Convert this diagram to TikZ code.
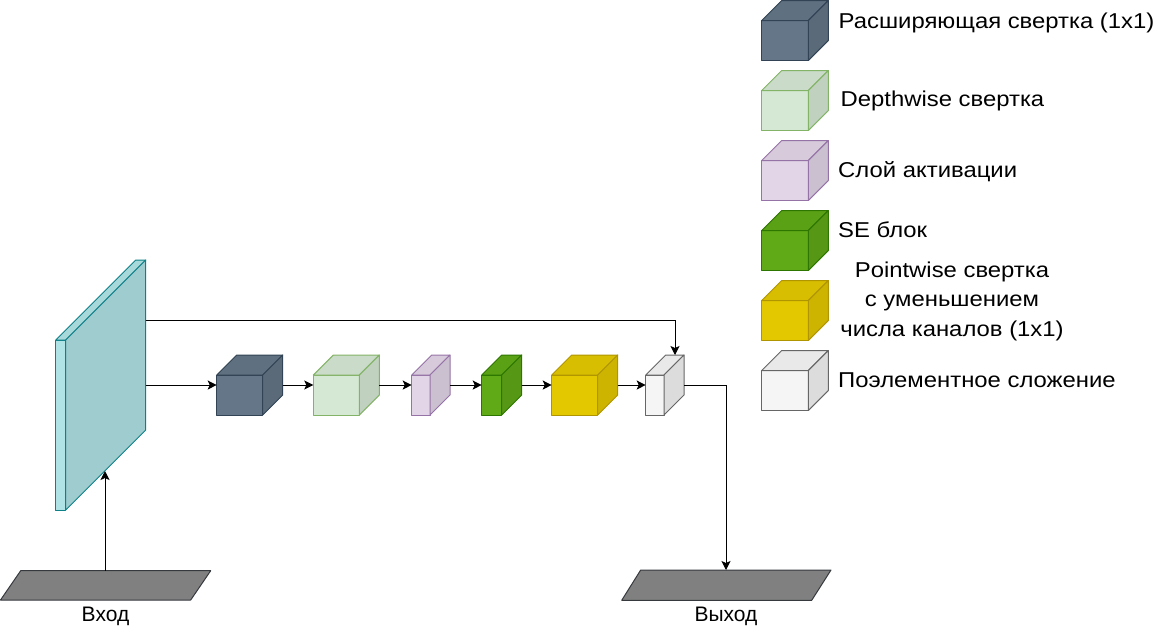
\documentclass[tikz,border=0pt]{standalone}
\usepackage{fontspec}
\setmainfont{Liberation Sans}
\newfontfamily\legfont{Liberation Sans}[FakeStretch=1.11]
\usetikzlibrary{arrows.meta,calc}
\definecolor{cA}{HTML}{647687}\definecolor{sA}{HTML}{314354}
\definecolor{cB}{HTML}{D5E8D4}\definecolor{sB}{HTML}{82B366}
\definecolor{cC}{HTML}{E1D5E7}\definecolor{sC}{HTML}{9673A6}
\definecolor{cD}{HTML}{60A917}\definecolor{sD}{HTML}{2D7600}
\definecolor{cE}{HTML}{E3C800}\definecolor{sE}{HTML}{B09500}
\definecolor{cF}{HTML}{F5F5F5}\definecolor{sF}{HTML}{666666}
\definecolor{cS}{HTML}{B0E3E6}\definecolor{sS}{HTML}{0E8088}
\definecolor{cP}{HTML}{808080}\definecolor{sP}{HTML}{36393D}
\tikzset{
  cubebox/.style={inner sep=0pt, outer sep=0pt},
  face/.style={line width=1pt, line join=round},
  conn/.style={line width=1pt, -{Stealth[length=9pt,width=9pt,inset=2pt]}},
  lbl/.style={inner sep=0pt, font=\fontsize{21}{29.3}\selectfont},
  leg/.style={inner sep=0pt, font=\legfont\fontsize{21.5}{29.3}\selectfont},
}
% #1 name, #2 x of front top-left, #3 y of front top-left, #4 front width, #5 fill, #6 stroke
\newcommand\mycube[6]{%
  \node[cubebox, minimum width=#4pt+20pt, minimum height=60pt, anchor=north west] (#1) at (#2,#3-20) {};
  \filldraw[face, fill=#5, draw=#6] (#2,#3) rectangle ++(#4,40);
  \filldraw[face, fill=#5!95!black, draw=#6] (#2,#3) -- ++(20,-20) -- ++(#4,0) -- ++(-20,20) -- cycle;
  \filldraw[face, fill=#5!90!black, draw=#6] (#2+#4,#3) -- ++(20,-20) -- ++(0,40) -- ++(-20,20) -- cycle;
}
\begin{document}
\begin{tikzpicture}[x=1pt,y=-1pt]
\useasboundingbox (0,0) rectangle (1168,641);
% input slab
\filldraw[face, fill=cS, draw=sS] (55.7,340) rectangle (65.7,510);
\filldraw[face, fill=cS!95!black, draw=sS] (55.7,340) -- (135.7,260) -- (145.7,260) -- (65.7,340) -- cycle;
\filldraw[face, fill=cS!90!black, draw=sS] (65.7,340) -- (145.7,260) -- (145.7,430) -- (65.7,510) -- cycle;
\coordinate (slabA) at (145.7,385);
\coordinate (slabS) at (145.7,320);
\coordinate (slabB) at (105,471);
% input / output parallelograms
\filldraw[face, fill=cP, draw=sP] (20.7,570.7) -- (210.7,570.7) -- (190.7,600) -- (0.5,600) -- cycle;
\coordinate (inTop) at (105,570.7);
\node[lbl, anchor=base] (inLbl) at (105.5,621.7) {Вход};
\filldraw[face, fill=cP, draw=sP] (640.7,570) -- (831,570) -- (811.7,600.3) -- (621.7,600.3) -- cycle;
\coordinate (outTop) at (726,570);
\node[lbl, anchor=base] (outLbl) at (726,621.7) {Выход};
% pipeline cubes
\mycube{c1}{216.7}{375}{46}{cA}{sA}
\mycube{c2}{313.3}{375}{46}{cB}{sB}
\mycube{c3}{411.7}{375}{18.3}{cC}{sC}
\mycube{c4}{481.7}{375}{20}{cD}{sD}
\mycube{c5}{551.7}{375}{46}{cE}{sE}
\mycube{c6}{645.7}{375}{18.3}{cF}{sF}
% connectors
\draw[conn] (inTop) -- (slabB);
\draw[conn] (slabA) -- (c1.west);
\draw[conn] (c1.east) -- (c2.west);
\draw[conn] (c2.east) -- (c3.west);
\draw[conn] (c3.east) -- (c4.west);
\draw[conn] (c4.east) -- (c5.west);
\draw[conn] (c5.east) -- (c6.west);
\draw[conn] (slabS) -| ($(c6.north east)+(-9,0)$);
\draw[conn] (c6.east) -| (outTop);
% legend
\mycube{l1}{761.7}{20.5}{46.6}{cA}{sA}
\mycube{l2}{761.7}{90.5}{46.6}{cB}{sB}
\mycube{l3}{761.7}{160.5}{46.6}{cC}{sC}
\mycube{l4}{761.7}{230.5}{46.6}{cD}{sD}
\mycube{l5}{761.7}{300.5}{46.6}{cE}{sE}
\mycube{l6}{761.7}{370.5}{46.6}{cF}{sF}
\node[leg, anchor=base west] (t1) at (838.5,28.3) {Расширяющая свертка (1x1)};
\node[leg, anchor=base west] (t2) at (840.5,106.7) {Depthwise свертка};
\node[leg, anchor=base west] (t3) at (838,177.3) {Слой активации};
\node[leg, anchor=base west] (t4) at (838,237.7) {SE блок};
\node[leg, anchor=base, align=center] (t5) at (952,336) {Pointwise свертка\\с уменьшением\\числа каналов (1x1)};
\node[leg, anchor=base west] (t6) at (838,387.3) {Поэлементное сложение};
\end{tikzpicture}
\end{document}
